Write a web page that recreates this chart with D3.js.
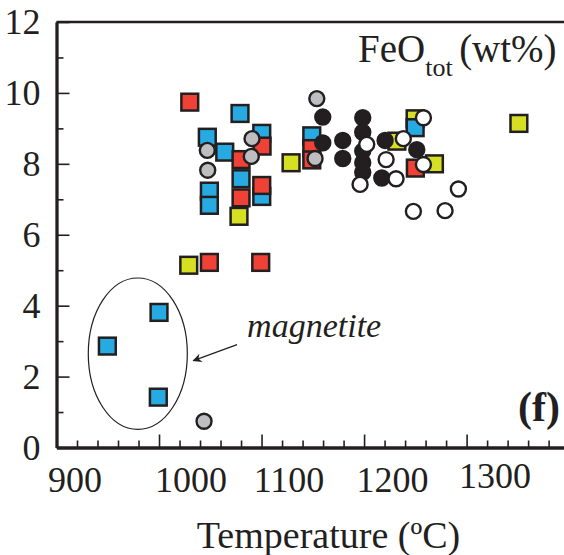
<!DOCTYPE html>
<html>
<head>
<meta charset="utf-8">
<script src="https://cdn.jsdelivr.net/npm/d3@7"></script>
<style>
  html, body { margin: 0; padding: 0; background: #fff; }
  svg { display: block; }
  text { font-family: "Liberation Serif", "Times New Roman", Times, serif; fill: #231F20; }
</style>
</head>
<body>
<svg id="chart" width="564" height="555"></svg>
<script>
// FeO(tot) (wt%) against temperature (°C), by phase group
const blueSquares = [
  [949.6, 2.86], [1000, 3.81], [999.3, 1.42],
  [1079, 9.42], [1100.2, 8.86], [1047.1, 8.75], [1064.1, 8.33],
  [1080, 7.58], [1100.2, 7.08], [1049.1, 7.23], [1049.1, 6.83],
  [1149, 8.79], [1249.8, 9.02]
];
const redSquares = [
  [1030, 9.74], [1100.5, 8.50], [1080, 8.12], [1100.2, 7.39],
  [1080, 7.04], [1049.1, 5.22], [1099.2, 5.22], [1149, 8.43],
  [1149, 8.11], [1250, 7.88]
];
const yellowSquares = [
  [1078, 6.52], [1029, 5.14], [1128.8, 8.03], [1232, 8.64],
  [1249.8, 9.27], [1268.6, 8.00], [1351, 9.14]
];
const grayCircles = [
  [1043.9, 0.74], [1090.7, 8.71], [1090, 8.21], [1047.1, 8.38],
  [1047.5, 7.82], [1153.9, 9.84], [1152.2, 8.15]
];
const blackCircles = [
  [1159.7, 9.32], [1159.7, 8.59], [1179.2, 8.66], [1179.2, 8.15],
  [1198.7, 9.30], [1198.7, 8.89], [1198.7, 8.36], [1198.7, 8.03],
  [1198.7, 7.76], [1220.5, 8.66], [1217.3, 7.60], [1251.4, 8.40]
];
const whiteCircles = [
  [1196.1, 7.42], [1202.6, 8.55], [1221.5, 8.12], [1238.3, 8.71],
  [1231.2, 7.58], [1257.9, 9.30], [1257.9, 7.98], [1292, 7.29],
  [1248.1, 6.66], [1279, 6.68]
];
const xMajorTicks = [900, 1000, 1100, 1200, 1300];
const xTickLabels = ["900", "1000", "1100", "1200", "1300"];
const yMajorTicks = [0, 2, 4, 6, 8, 10, 12];
const yTickLabels = ["0", "2", "4", "6", "8", "10", "12"];

const ink = "#231F20";
const serif = '"Liberation Serif", "Times New Roman", Times, serif';
const svg = d3.select("#chart");

const x = d3.scaleLinear().domain([900, 1395]).range([56.5, 564]);
const y = d3.scaleLinear().domain([0, 12]).range([447.5, 22]);

// frame: top border
svg.append("line")
  .attr("x1", x(900)).attr("x2", x(1395))
  .attr("y1", y(12)).attr("y2", y(12))
  .attr("stroke", ink).attr("stroke-width", 2.6);

// x axis: minor ticks every 20 °C, major every 100 °C, pointing inward
const xMinor = d3.range(920, 1395, 20).filter(v => v % 100 !== 0);
const gx = svg.append("g").attr("transform", `translate(0,${y(0)})`);
gx.call(d3.axisBottom(x).tickValues(xMinor).tickSize(-7).tickSizeOuter(0).tickFormat(""));
const gxMaj = svg.append("g").attr("transform", `translate(0,${y(0)})`);
gxMaj.call(d3.axisBottom(x).tickValues(xMajorTicks).tickSize(-13).tickSizeOuter(0).tickFormat(""));
[gx, gxMaj].forEach(g => {
  g.select(".domain").attr("stroke", ink).attr("stroke-width", 2.8);
  g.selectAll(".tick line").attr("stroke", ink).attr("stroke-width", 1.6);
});

// x tick labels, hand-set beside their ticks
const xLabelNudge = [[18.5, 0], [32, 0], [27.5, 0], [28.5, 0], [28.5, -4]];
svg.append("g").selectAll("text").data(xMajorTicks).join("text")
  .attr("x", (d, i) => x(d) + xLabelNudge[i][0])
  .attr("y", (d, i) => 492 + xLabelNudge[i][1])
  .attr("text-anchor", "middle")
  .attr("font-size", 36)
  .text((d, i) => xTickLabels[i]);

// y axis: ticks pointing inward, minor at odd values
const gy = svg.append("g").attr("transform", `translate(${x(900)},0)`);
gy.call(d3.axisLeft(y).tickValues([1, 3, 5, 7, 9, 11]).tickSize(-7).tickSizeOuter(0).tickFormat(""));
const gyMaj = svg.append("g").attr("transform", `translate(${x(900)},0)`);
gyMaj.call(d3.axisLeft(y).tickValues(yMajorTicks).tickSize(-13).tickSizeOuter(0)
  .tickPadding(16).tickFormat((d, i) => yTickLabels[i]));
[gy, gyMaj].forEach(g => {
  g.attr("font-family", serif).attr("font-size", 36);
  g.select(".domain").attr("stroke", ink).attr("stroke-width", 2.8);
  g.selectAll(".tick line").attr("stroke", ink).attr("stroke-width", 1.6);
});
gyMaj.selectAll(".tick text")
  .attr("font-size", 36).attr("font-family", serif).attr("fill", ink).attr("dy", "0.33em");

// axis title
svg.append("text")
  .attr("x", 328.5).attr("y", 548)
  .attr("text-anchor", "middle").attr("font-size", 38)
  .text("Temperature (ºC)");

// panel title with subscript
const title = svg.append("text").attr("x", 358).attr("y", 61.5).attr("font-size", 39);
title.append("tspan").text("FeO");
title.append("tspan").attr("font-size", 26).attr("dy", 14).text("tot ");
title.append("tspan").attr("dy", -14).text("(wt%)");

// panel letter
svg.append("text")
  .attr("x", 560).attr("y", 421)
  .attr("text-anchor", "end").attr("font-size", 42).attr("font-weight", "bold")
  .text("(f)");

// magnetite group annotation
const ell = { t0: 931, t1: 1027.6, f0: 0.51, f1: 4.78 };
svg.append("ellipse")
  .attr("cx", (x(ell.t0) + x(ell.t1)) / 2)
  .attr("cy", (y(ell.f0) + y(ell.f1)) / 2)
  .attr("rx", (x(ell.t1) - x(ell.t0)) / 2)
  .attr("ry", (y(ell.f0) - y(ell.f1)) / 2)
  .attr("fill", "none").attr("stroke", ink).attr("stroke-width", 1.2);

const defs = svg.append("defs");
defs.append("marker")
  .attr("id", "arrowhead").attr("viewBox", "0 0 10 10")
  .attr("refX", 9).attr("refY", 5)
  .attr("markerWidth", 11).attr("markerHeight", 9)
  .attr("markerUnits", "userSpaceOnUse")
  .attr("orient", "auto")
  .append("path").attr("d", "M0,0 L10,5 L0,10 L3,5 Z").attr("fill", ink);

svg.append("line")
  .attr("x1", x(1076.1)).attr("y1", y(2.90))
  .attr("x2", x(1033.5)).attr("y2", y(2.45))
  .attr("stroke", ink).attr("stroke-width", 1.2)
  .attr("marker-end", "url(#arrowhead)");

svg.append("text")
  .attr("x", x(1085.9)).attr("y", y(3.12))
  .attr("font-size", 34).attr("font-style", "italic")
  .text("magnetite");

// markers
const side = 16.8;
const sq = (data, fill) => svg.append("g").selectAll("rect").data(data).join("rect")
  .attr("x", d => x(d[0]) - side / 2).attr("y", d => y(d[1]) - side / 2)
  .attr("width", side).attr("height", side)
  .attr("fill", fill).attr("stroke", ink).attr("stroke-width", 2.5);
const ci = (data, fill) => svg.append("g").selectAll("circle").data(data).join("circle")
  .attr("cx", d => x(d[0])).attr("cy", d => y(d[1])).attr("r", 7.5)
  .attr("fill", fill).attr("stroke", ink).attr("stroke-width", 2.4);

sq(yellowSquares, "#D7DF23");
sq(blueSquares, "#27AAE1");
sq(redSquares, "#EF4136");
ci(grayCircles, "#BCBEC0");
ci(blackCircles, "#231F20");
ci(whiteCircles, "#FFFFFF");
</script>
</body>
</html>
